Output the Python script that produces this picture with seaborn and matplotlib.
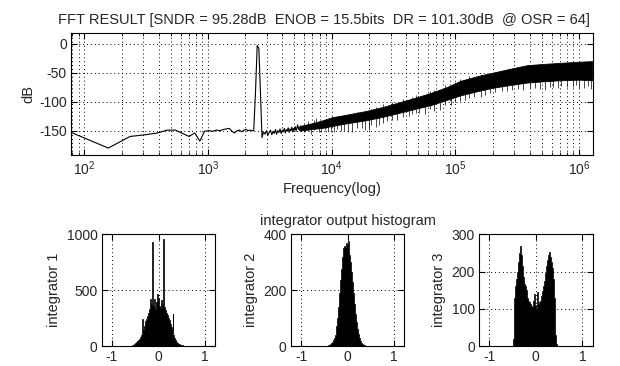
import numpy as np
import pandas as pd
import matplotlib
matplotlib.use('Agg')
import matplotlib.pyplot as plt
import seaborn as sns
from matplotlib.ticker import LogLocator, NullFormatter

# ---- FFT spectrum ----
# first bins of the FFT (bin spacing fs/N = 78.125 Hz), values in dB
bin_hz = 78.125
low_db = [-153, -180, -160, -157, -154, -149, -149, -155, -160, -154,
          -168, -151, -150, -151, -149, -150, -148, -147, -146, -151,
          -154, -150, -149, -152, -149, -148, -150, -149, -150, -150,
          -84, -3, -8, -84, -162, -152, -156, -150, -158, -153,
          -149, -157, -151, -155, -148, -156, -150, -153, -147, -155,
          -149, -152, -146, -154, -148, -151, -145, -153, -147, -150,
          -144, -152, -146, -149, -143, -151, -145, -140, -148, -144,
          -150, -142]

# dense noise floor above ~5.5 kHz: upper / lower edge of the black band
band_f = [5500, 7000, 8500, 10000, 13500, 19000, 26000, 34000, 46000, 63000,
          85000, 110000, 150000, 200000, 280000, 380000, 500000, 700000,
          1000000, 1280000]
band_hi = [-142, -137, -132, -127, -122, -116, -109, -102, -94, -85,
           -75, -64, -56, -50, -43, -37, -35, -33, -31, -30]
band_lo = [-150, -147, -145, -142, -137, -132, -126, -120, -113, -106,
           -97, -89, -82, -76, -71, -67, -65, -63, -62, -63]

# single bins sticking out of the band (frequency, low end, high end)
spike_f = [6000, 6400, 6800, 7200, 7500, 7900, 8200, 8800, 9300, 9800,
           10400, 11000, 11800, 12500, 13500, 14700, 16000, 17500, 18500,
           19900, 21000, 23000, 24000, 26000, 28100, 31000, 34000, 38000,
           42000, 45000, 48000, 51000, 57000, 62000, 67000, 75000, 82000,
           92000, 100000, 110000, 120000, 130000, 142000, 160000, 175000,
           190000, 210000, 240000, 260000, 290000, 320000, 350000, 400000,
           440000, 480000, 530000, 580000, 620000, 680000, 720000, 800000,
           900000, 950000, 1000000, 1100000, 1180000, 1250000]
spike_lo = [-152, -150, -155, -149, -140, -153, -152, -149, -150, -152,
            -153, -147, -150, -150, -152, -153, -145, -145, -149,
            -148, -140, -143, -140, -136, -134, -131, -131, -127,
            -125, -122, -119, -120, -122, -113, -116, -114, -106,
            -106, -100, -98, -97, -94, -92, -92, -88,
            -85, -84, -82, -82, -80, -78, -80, -77,
            -76, -78, -79, -74, -75, -76, -73, -74,
            -75, -72, -76, -77, -73, -78]
spike_hi = [-138, -134, -145, -132, -128, -142, -135, -131, -138, -130,
            -136, -126, -133, -124, -125, -128, -118, -125, -116,
            -122, -112, -110, -118, -104, -115, -100, -112, -96,
            -106, -92, -88, -100, -97, -82, -80, -88, -72,
            -80, -66, -60, -75, -56, -70, -52, -52,
            -64, -48, -60, -45, -56, -42, -40, -52,
            -38, -50, -36, -36, -48, -35, -35, -47,
            -33, -33, -46, -32, -31, -45]

title = 'FFT RESULT [SNDR = 95.28dB  ENOB = 15.5bits  DR = 101.30dB  @ OSR = 64]'

# ---- integrator output histograms (bins of 0.02 from -0.64 to 0.64) ----
bin_w = 0.02
bin_range = (-0.64, 0.64)
int1_counts = [0, 0, 2, 5, 8, 12, 18, 25, 33, 42,
               52, 65, 78, 95, 240, 140, 175, 205, 225, 240,
               270, 300, 330, 420, 380, 930, 360, 420, 330, 390,
               470, 430, 400, 360, 340, 410, 380, 960, 350, 320,
               300, 280, 250, 230, 200, 170, 140, 290, 100, 75,
               55, 40, 30, 22, 16, 12, 9, 6, 4, 3,
               2, 1, 0, 0]
int2_counts = [0, 0, 0, 0, 0, 0, 0, 0, 0, 0,
               0, 2, 4, 7, 11, 15, 20, 28, 38, 50,
               70, 100, 140, 190, 235, 275, 320, 352, 360, 355,
               368, 362, 378, 352, 325, 300, 265, 230, 190, 150,
               115, 85, 60, 42, 28, 18, 12, 8, 5, 3,
               2, 1, 0, 0, 0, 0, 0, 0, 0, 0,
               0, 0, 0, 0]
int3_counts = [0, 0, 0, 0, 0, 0, 0, 0, 20, 130,
               160, 180, 200, 225, 250, 268, 245, 215, 185, 168,
               160, 150, 138, 130, 122, 118, 112, 108, 105, 120,
               140, 110, 100, 145, 112, 118, 120, 125, 135, 148,
               160, 175, 195, 215, 230, 245, 252, 240, 225, 210,
               180, 130, 80, 30, 5, 0, 0, 0, 0, 0,
               0, 0, 0, 0]
hist_names = ['integrator 1', 'integrator 2', 'integrator 3']
hist_ymax = [1000, 400, 300]
hist_yticks = [[0, 500, 1000], [0, 200, 400], [0, 100, 200, 300]]

sns.set_style('ticks')
plt.rcParams['font.family'] = ['Liberation Sans', 'DejaVu Sans']
plt.rcParams['mathtext.fontset'] = 'custom'
plt.rcParams['mathtext.rm'] = 'Liberation Sans'
plt.rcParams['axes.unicode_minus'] = False
plt.rcParams['font.size'] = 10

dots = (0, (1, 3))
lab_fs = 10.5
tick_fs = 10

fig = plt.figure(figsize=(6.2, 3.66), dpi=100)
fig.patch.set_facecolor('white')

ax = fig.add_axes([0.1145, 0.5765, 0.842, 0.334])
low_f = bin_hz * np.arange(1, len(low_db) + 1)
ax.set_xscale('log')
sns.lineplot(x=low_f, y=low_db, ax=ax, color='k', lw=0.8, estimator=None)
ax.fill_between(band_f, band_lo, band_hi, color='k', lw=0.6)
ax.vlines(spike_f, spike_lo, spike_hi, color='k', lw=0.5)
ax.set_xlim(78, 1.3e6)
ax.set_ylim(-192, 19)
ax.set_yticks([-150, -100, -50, 0])
ax.xaxis.set_major_locator(LogLocator(base=10))
ax.xaxis.set_minor_locator(LogLocator(base=10, subs=np.arange(2, 10)))
ax.xaxis.set_minor_formatter(NullFormatter())
ax.grid(True, which='both', axis='x', ls=dots, color='k', lw=0.7)
ax.grid(True, which='major', axis='y', ls=dots, color='k', lw=0.7)
ax.set_xlabel('Frequency(log)', fontsize=lab_fs, labelpad=3)
ax.set_ylabel('dB', fontsize=lab_fs, labelpad=3)
ax.set_title(title, fontsize=lab_fs, pad=6, x=0.485)

hist_left = [0.164, 0.469, 0.7726]
hist_counts = [int1_counts, int2_counts, int3_counts]
n_bins = len(int1_counts)
centers = bin_range[0] + bin_w * (np.arange(n_bins) + 0.5)
hax = []
for i in range(3):
    a = fig.add_axes([hist_left[i], 0.0546, 0.1834, 0.305])
    df = pd.DataFrame({'value': centers, 'count': hist_counts[i]})
    sns.histplot(data=df, x='value', weights='count', binwidth=bin_w,
                 binrange=bin_range, element='step', color='k', alpha=1,
                 lw=0.5, ax=a)
    a.set_xlim(-1.22, 1.22)
    a.set_ylim(0, hist_ymax[i])
    a.set_xticks([-1, 0, 1])
    a.set_yticks(hist_yticks[i])
    a.grid(True, ls=dots, color='k', lw=0.7)
    a.set_ylabel(hist_names[i], fontsize=lab_fs, labelpad=4)
    a.set_xlabel('')
    hax.append(a)
hax[1].set_title('integrator output histogram', fontsize=lab_fs, pad=7)

for a in [ax] + hax:
    a.set_axisbelow(False)
    for s in a.spines.values():
        s.set_visible(True)
        s.set_color('k')
        s.set_linewidth(0.8)
    a.tick_params(which='both', direction='in', top=True, right=True,
                  labelsize=tick_fs, pad=3, color='k')
    a.tick_params(which='major', length=4)
    a.tick_params(which='minor', length=2)

fig.savefig('out.png', dpi=100)
